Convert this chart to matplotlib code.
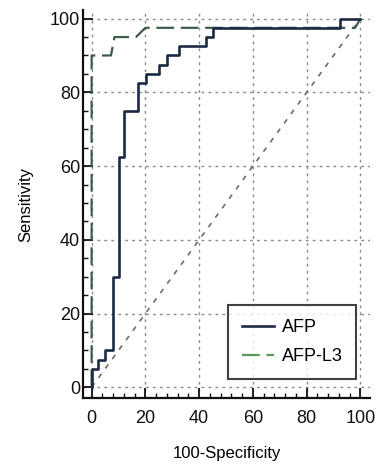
import numpy as np
import matplotlib
matplotlib.use("Agg")
from matplotlib import pyplot as plt
from matplotlib import font_manager
from matplotlib.ticker import MultipleLocator

# ROC data (100-specificity, sensitivity)
afp_x = [0, 0, 2.5, 2.5, 4.9, 4.9, 7.8, 7.8, 10.3, 10.3, 12.1, 12.1, 17.3, 17.3,
         20.2, 20.2, 25.1, 25.1, 27.9, 27.9, 32.6, 32.6, 42.5, 42.5, 45.0, 45.0,
         92.5, 92.5, 100]
afp_y = [0, 5, 5, 7.5, 7.5, 10, 10, 30, 30, 62.5, 62.5, 75, 75, 82.5,
         82.5, 85, 85, 87.5, 87.5, 90, 90, 92.5, 92.5, 95, 95, 97.5,
         97.5, 100, 100]

l3_x = [0, 0, 7.2, 8.5, 11, 16.5, 20, 98, 100]
l3_y = [0, 90, 90, 95, 95, 95, 97.5, 97.5, 100]

ref_x = [0, 100]
ref_y = [0, 100]

ticks = [0, 20, 40, 60, 80, 100]
names = ["AFP", "AFP-L3"]

# font: narrow arial-like if available
avail = set(f.name for f in font_manager.fontManager.ttflist)
fam = "Liberation Sans Narrow" if "Liberation Sans Narrow" in avail else "Liberation Sans"
plt.rcParams['font.family'] = [fam, 'DejaVu Sans']

fig = plt.figure(figsize=(3.78, 4.69), dpi=100)
ax = fig.add_axes([0.2196, 0.1514, 0.759, 0.827])

ax.plot(ref_x, ref_y, color='#6b6b6b', lw=1.2, ls=(0, (3, 4)), zorder=2)
ax.plot(l3_x, l3_y, color='#3e5e48', lw=1.6, ls=(0, (8, 3)), label=names[1], zorder=3)
ax.plot(afp_x, afp_y, color='#1c2b45', lw=1.9, label=names[0], zorder=4)

ax.set_xlim(-3.2, 103.5)
ax.set_ylim(-2.9, 102.3)
ax.set_xticks(ticks)
ax.set_yticks(ticks)
ax.xaxis.set_minor_locator(MultipleLocator(4))
ax.yaxis.set_minor_locator(MultipleLocator(5))

for s in ['top', 'right']:
    ax.spines[s].set_visible(False)
for s in ['left', 'bottom']:
    ax.spines[s].set_linewidth(1.6)
    ax.spines[s].set_color('#111111')

ax.tick_params(which='major', direction='in', length=7, width=1.3, labelsize=13, colors='#111111')
ax.tick_params(which='minor', direction='in', length=3.5, width=1.0, colors='#111111')
ax.tick_params(axis='x', which='major', pad=9)
ax.tick_params(axis='y', which='major', pad=2)

ax.grid(True, which='major', color='#8a8a8a', lw=1.0, ls=(0, (2, 3)))
ax.set_axisbelow(True)

ax.set_xlabel("100-Specificity", fontsize=12, labelpad=13)
ax.set_ylabel("Sensitivity", fontsize=12, labelpad=12)

h, l = ax.get_legend_handles_labels()
leg = ax.legend(h[::-1], l[::-1], loc='lower right', bbox_to_anchor=(356 / 378, 90 / 469),
                bbox_transform=fig.transFigure,
                fontsize=13, frameon=True, fancybox=False, borderpad=0.75, borderaxespad=0,
                handlelength=1.8, handletextpad=0.4, labelspacing=0.7)
leg.get_frame().set_edgecolor('#111111')
leg.get_frame().set_linewidth(1.5)
leg.get_lines()[1].set_color('#5a9a5a')

fig.savefig("out.png", dpi=100)
